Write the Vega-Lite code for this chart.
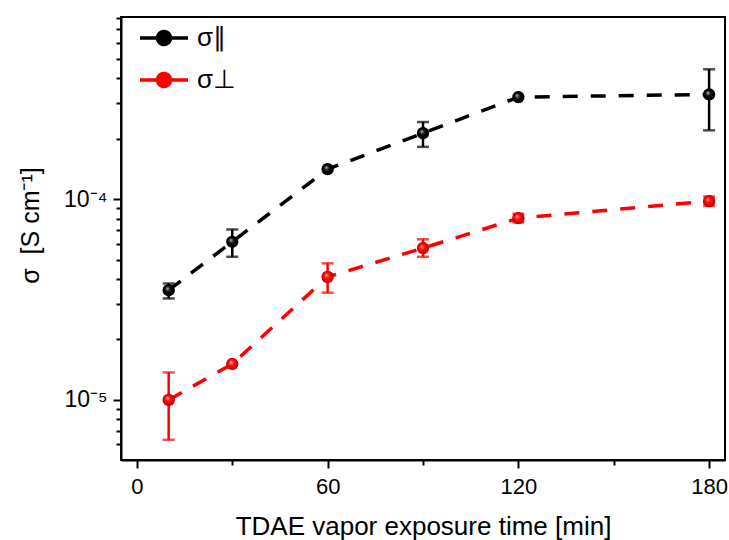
{
  "$schema": "https://vega.github.io/schema/vega-lite/v6.json",
  "width": 604,
  "height": 443,
  "autosize": "none",
  "padding": {"left": 121, "top": 17, "right": 4, "bottom": 80},
  "background": "white",
  "config": {
    "font": "Liberation Sans",
    "view": {"stroke": "black", "strokeWidth": 2},
    "axis": {"domainColor": "black", "domainWidth": 2, "tickColor": "black", "tickWidth": 2, "grid": false, "labelColor": "black", "titleColor": "black", "labelFont": "Liberation Sans", "titleFont": "Liberation Sans", "titleFontWeight": "normal"}
  },
  "data": {
    "values": [
      {"series": "σ∥", "t": 10, "v": 3.52e-5, "lo": 3.2e-5, "hi": 3.8e-5},
      {"series": "σ∥", "t": 30, "v": 6.13e-5, "lo": 5.16e-5, "hi": 7.06e-5},
      {"series": "σ∥", "t": 60, "v": 1.41e-4, "lo": null, "hi": null},
      {"series": "σ∥", "t": 90, "v": 2.13e-4, "lo": 1.82e-4, "hi": 2.42e-4},
      {"series": "σ∥", "t": 120, "v": 3.22e-4, "lo": null, "hi": null},
      {"series": "σ∥", "t": 180, "v": 3.32e-4, "lo": 2.2e-4, "hi": 4.43e-4},
      {"series": "σ⊥", "t": 10, "v": 1.0e-5, "lo": 6.33e-6, "hi": 1.37e-5},
      {"series": "σ⊥", "t": 30, "v": 1.51e-5, "lo": null, "hi": null},
      {"series": "σ⊥", "t": 60, "v": 4.1e-5, "lo": 3.42e-5, "hi": 4.79e-5},
      {"series": "σ⊥", "t": 90, "v": 5.7e-5, "lo": 5.16e-5, "hi": 6.31e-5},
      {"series": "σ⊥", "t": 120, "v": 8.04e-5, "lo": 7.65e-5, "hi": 8.45e-5},
      {"series": "σ⊥", "t": 180, "v": 9.77e-5, "lo": 9.25e-5, "hi": 1.03e-4}
    ]
  },
  "encoding": {
    "x": {
      "field": "t", "type": "quantitative",
      "scale": {"domain": [-5, 185], "nice": false, "zero": false},
      "axis": {
        "values": [0, 30, 60, 90, 120, 150, 180],
        "labelExpr": "datum.value % 60 === 0 ? datum.label : ''",
        "tickSize": {"condition": {"test": "datum.value % 60 === 0", "value": 8}, "value": 5},
        "labelFontSize": 22, "labelPadding": 8,
        "title": "TDAE vapor exposure time [min]", "titleFontSize": 26, "titlePadding": 16
      }
    },
    "color": {
      "field": "series", "type": "nominal",
      "scale": {"domain": ["σ∥", "σ⊥"], "range": ["#000000", "#ff0000"]}
    }
  },
  "layer": [
    {
      "mark": {"type": "line", "strokeDash": [15, 13], "strokeWidth": 3.5},
      "encoding": {
        "y": {
          "field": "v", "type": "quantitative",
          "scale": {"type": "log", "domain": [5.02e-6, 8.07e-4], "nice": false},
          "axis": {
            "values": [6e-6, 7e-6, 8e-6, 9e-6, 1e-5, 2e-5, 3e-5, 4e-5, 5e-5, 6e-5, 7e-5, 8e-5, 9e-5, 1e-4, 2e-4, 3e-4, 4e-4, 5e-4, 6e-4, 7e-4, 8e-4],
            "labelExpr": "abs(datum.value - 0.0001) < 1e-9 ? '10⁻⁴' : (abs(datum.value - 0.00001) < 1e-10 ? '10⁻⁵' : '')",
            "tickSize": {"condition": {"test": "abs(datum.value - 0.0001) < 1e-9 || abs(datum.value - 0.00001) < 1e-10", "value": 8}, "value": 5},
            "labelFontSize": 23, "labelPadding": 6,
            "title": "σ\u00a0\u00a0[S cm⁻¹]", "titleFontSize": 25, "titlePadding": 20, "titleY": 208
          }
        },
        "color": {
          "field": "series", "type": "nominal",
          "legend": {
            "orient": "none", "legendX": 30, "legendY": 8,
            "title": null,
            "symbolType": "M-2.4,0L-0.45,0M0.45,0L2.4,0M0.65,0A0.65,0.65,0,1,1,-0.65,0A0.65,0.65,0,1,1,0.65,0Z",
            "symbolSize": 400,
            "symbolStrokeWidth": 3.5,
            "labelFontSize": 26,
            "labelOffset": 20,
            "rowPadding": 14,
            "padding": 0,
            "encode": {"symbols": {"update": {"fill": {"scale": "color", "field": "value"}, "strokeDash": {"value": [1, 0]}}}}
          }
        }
      }
    },
    {
      "transform": [{"filter": "datum.lo != null"}],
      "mark": {"type": "errorbar", "thickness": 2.5, "ticks": {"size": 12, "thickness": 2.5}},
      "encoding": {
        "y": {"field": "lo", "type": "quantitative", "title": "σ\u00a0\u00a0[S cm⁻¹]"},
        "y2": {"field": "hi"},
        "color": {"field": "series", "type": "nominal", "legend": null}
      }
    },
    {
      "mark": {"type": "point", "filled": true, "size": 150, "opacity": 1},
      "encoding": {
        "y": {"field": "v", "type": "quantitative", "title": "σ\u00a0\u00a0[S cm⁻¹]"},
        "color": {"field": "series", "type": "nominal", "legend": null}
      }
    },
    {
      "mark": {
        "type": "point", "filled": true, "size": 150, "opacity": 1,
        "color": {
          "gradient": "radial", "x1": 0.38, "y1": 0.35, "r1": 0, "x2": 0.5, "y2": 0.5, "r2": 0.5,
          "stops": [
            {"offset": 0, "color": "rgba(255,255,255,0.75)"},
            {"offset": 0.35, "color": "rgba(255,255,255,0.15)"},
            {"offset": 0.7, "color": "rgba(0,0,0,0)"},
            {"offset": 1, "color": "rgba(0,0,0,0.35)"}
          ]
        }
      },
      "encoding": {
        "y": {"field": "v", "type": "quantitative", "title": "σ\u00a0\u00a0[S cm⁻¹]"},
        "color": null
      }
    }
  ]
}
